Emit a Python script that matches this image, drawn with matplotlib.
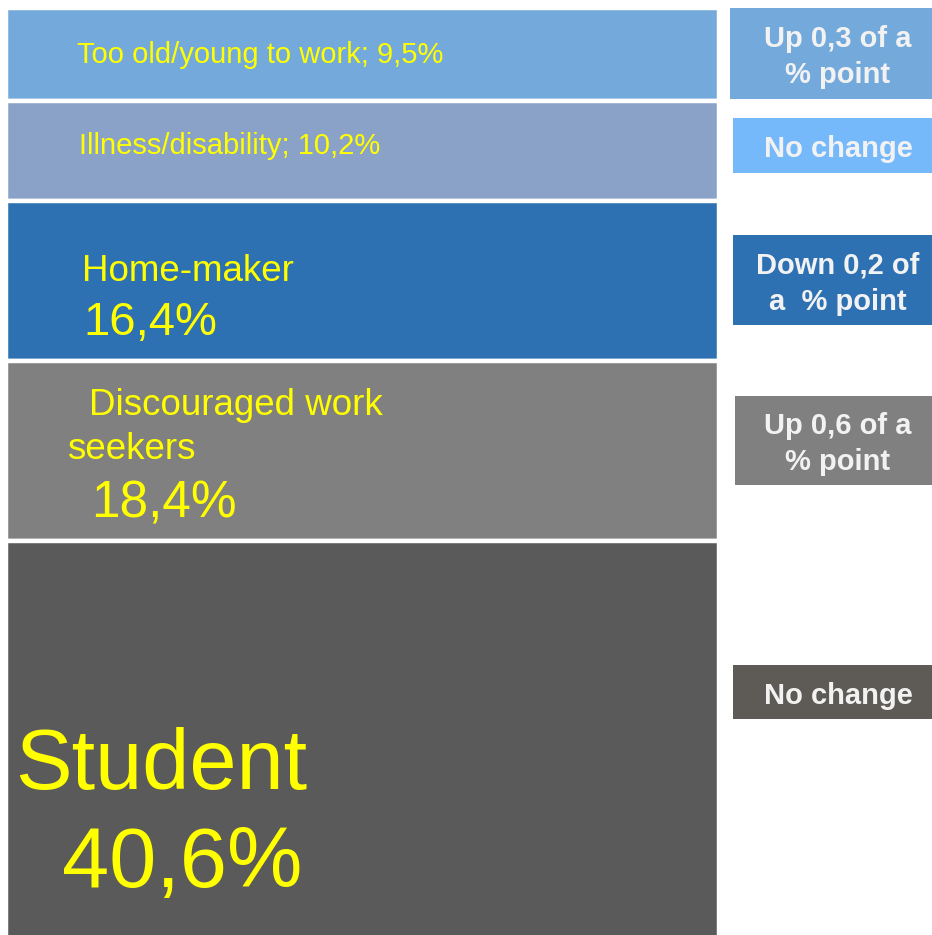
import matplotlib.pyplot as plt
from matplotlib.patches import Rectangle

plt.rcParams['font.family'] = ['Liberation Sans', 'DejaVu Sans']

categories = ['Too old/young to work', 'Illness/disability', 'Home-maker',
              'Discouraged work seekers', 'Student']
shares = [9.5, 10.2, 16.4, 18.4, 40.6]
changes = ['Up 0,3 of a\n% point', 'No change', 'Down 0,2 of\na  % point',
           'Up 0,6 of a\n% point', 'No change']

seg_colors = ['#74A9DB', '#8AA2C8', '#2E71B3', '#808080', '#5A5A5A']
box_colors = ['#74A9DB', '#75B9FB', '#2E71B3', '#808080', '#5E5A56']

W, H = 932, 935
fig = plt.figure(figsize=(W / 100, H / 100), dpi=100)


def fx(px):
    return px / W


def fy(py):
    return 1 - py / H


# stacked single column, top segment first
ax = fig.add_axes([fx(5.5), fy(938), fx(718.5) - fx(5.5), fy(8) - fy(938)])
bottoms = [sum(shares[:i]) for i in range(len(shares))]
ax.bar([0] * len(shares), shares, bottom=bottoms, width=1.0,
       color=seg_colors, edgecolor='white', linewidth=3.2)
ax.set_xlim(-0.5, 0.5)
ax.set_ylim(sum(shares), 0)
ax.axis('off')


def pct(v):
    return f"{v:.1f}".replace('.', ',') + '%'


yellow = '#FFFF00'
# segment labels: (text, x px, baseline px, size)
seg_text = [
    (f"{categories[0]}; {pct(shares[0])}", 77, 63, 21),
    (f"{categories[1]}; {pct(shares[1])}", 79, 154, 21),
    (categories[2], 82, 281, 26.5),
    (pct(shares[2]), 83, 335, 34),
    ('Discouraged work', 89, 415, 26.5),
    ('seekers', 67, 459, 26.5),
    (pct(shares[3]), 91, 517, 37),
    (categories[4], 15, 789, 61),
    (pct(shares[4]), 62, 887, 61),
]
for txt, x, y, s in seg_text:
    fig.text(fx(x), fy(y), txt, color=yellow, fontsize=s,
             ha='left', va='baseline')

# change boxes on the right: (x0, y0, x1, y1) in px
boxes = [(730, 8, 932, 99), (733, 118, 932, 173), (733, 235, 932, 325),
         (735, 396, 932, 485), (733, 665, 932, 719)]
for (x0, y0, x1, y1), c, txt in zip(boxes, box_colors, changes):
    fig.patches.append(Rectangle((fx(x0), fy(y1)), fx(x1) - fx(x0),
                                 fy(y0) - fy(y1), transform=fig.transFigure,
                                 facecolor=c, edgecolor='none'))
    fig.text(fx(838), fy((y0 + y1) / 2 + 3.5), txt, color='#F2F2F2',
             fontsize=21, fontweight='bold', ha='center', va='center',
             linespacing=1.4)

fig.savefig('out.png', dpi=100)
